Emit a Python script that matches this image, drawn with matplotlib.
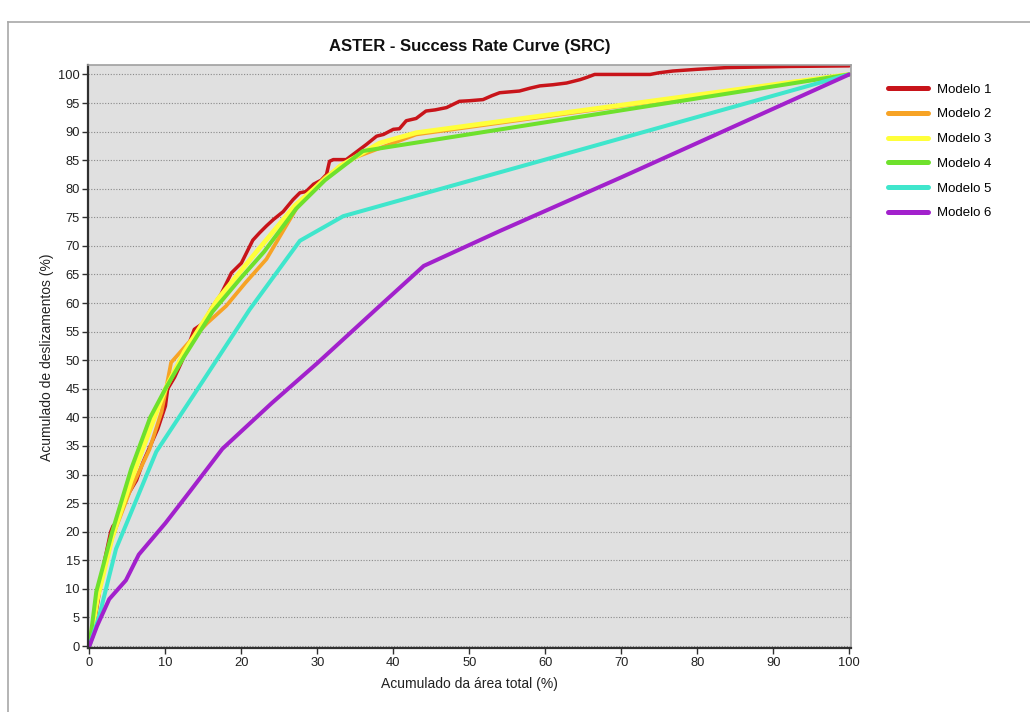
import matplotlib
matplotlib.use("Agg")
import matplotlib.pyplot as plt
from matplotlib.lines import Line2D

plt.rcParams['font.family'] = ['Liberation Sans', 'DejaVu Sans']

title = "ASTER - Success Rate Curve (SRC)"
xlabel = "Acumulado da área total (%)"
ylabel = "Acumulado de deslizamentos (%)"
model_names = ["Modelo 1", "Modelo 2", "Modelo 3", "Modelo 4", "Modelo 5", "Modelo 6"]
colors = ["#c8141a", "#f7a325", "#ffff3a", "#6ee12c", "#3fe6cc", "#a221cc"]

m1_x = [0, 0.5, 1.1, 1.6, 2.0, 2.4, 2.8, 3.1, 3.5, 4.2, 5.3, 6.2, 7, 8, 9, 10, 10.3, 11.2,
        12.1, 13, 13.8, 15, 16, 17.3, 18.7, 20, 20.9, 21.5, 22.4, 23.3, 24.2, 25.5, 26.8,
        27.7, 28.5, 29.5, 30.5, 31.2, 31.6, 32.1, 33.8, 34.7, 35.6, 36.5, 37.8, 38.7, 40,
        40.8, 41.7, 43, 44.3, 45.5, 47, 48.7, 50, 51.8, 53, 54, 56.6, 58, 59.3, 61, 62.8,
        64.6, 65.5, 66.5, 73.8, 75, 76.8, 80, 83.9, 88, 92.2, 100]
m1_y = [0, 3, 7.7, 12, 15, 17.5, 20, 21, 21.5, 24, 27, 29, 32, 35, 38, 42, 45, 47,
        49.6, 52.5, 55.4, 56.5, 59, 61.5, 65.3, 67, 69.4, 71, 72.3, 73.5, 74.6, 76, 78.1,
        79.3, 79.5, 80.8, 81.5, 82.5, 84.8, 85.1, 85.1, 86, 86.9, 87.8, 89.2, 89.5, 90.4,
        90.5, 91.9, 92.3, 93.6, 93.8, 94.2, 95.3, 95.4, 95.6, 96.3, 96.8, 97.1, 97.6, 98,
        98.2, 98.5, 99.1, 99.5, 100, 100, 100.3, 100.6, 100.9, 101.2, 101.3, 101.4, 101.5]

m2_x = [0, 0.5, 1.3, 3, 5.3, 7.9, 9.5, 10.75, 13, 15.5, 18, 20.5, 23.3, 27.7, 31, 35, 43, 100]
m2_y = [0, 4, 10, 19, 27, 34.4, 41, 49.6, 53, 56.5, 59.5, 63.5, 67.7, 77.6, 82, 85.5, 89.5, 100]

m3_x = [0, 0.4, 1, 3, 5.5, 8, 10, 12.5, 16.9, 22, 27, 33, 38.2, 43, 100]
m3_y = [0, 3, 8, 19, 29, 38, 45, 51.5, 60.7, 69, 77, 84, 88, 89.8, 100]

m4_x = [0, 0.9, 3, 5.5, 8, 10, 12.5, 16.2, 20, 23, 27.2, 31, 36, 100]
m4_y = [0, 9.5, 20, 31, 40, 45, 50.7, 58.5, 64.5, 69, 76.5, 81.5, 86.6, 100]

m5_x = [0, 1.3, 3.5, 6.4, 8.8, 15, 21.1, 27.7, 33.4, 100]
m5_y = [0, 5.3, 17, 26.3, 34, 46.5, 58.9, 70.9, 75.2, 100]

m6_x = [0, 1, 2.6, 4.8, 6.5, 10, 13.2, 17.5, 24, 30, 37.8, 44, 54, 70, 100]
m6_y = [0, 3.5, 8.2, 11.5, 16, 21.5, 27, 34.5, 42.5, 49.5, 59, 66.5, 72.6, 82, 100]

series = [(m1_x, m1_y), (m2_x, m2_y), (m3_x, m3_y), (m4_x, m4_y), (m5_x, m5_y), (m6_x, m6_y)]
widths = [2.5, 2.7, 3.4, 2.9, 2.9, 2.9]

fig = plt.figure(figsize=(10.3, 7.12), dpi=100)
fig.patch.set_facecolor("white")

# outer frame lines (top and left)
fig.add_artist(Line2D([8 / 1030, 1.0], [1 - 22 / 712, 1 - 22 / 712], color="#a8a8a8", lw=1.2))
fig.add_artist(Line2D([8 / 1030, 8 / 1030], [0, 1 - 22 / 712], color="#a8a8a8", lw=1.2))

ax = fig.add_axes([88.3 / 1030, 1 - 648.3 / 712, (850.7 - 88.3) / 1030, (648.3 - 65.3) / 712])
ax.set_facecolor("#e0e0e0")

for (xs, ys), c, w, name in zip(series, colors, widths, model_names):
    ax.plot(xs, ys, color=c, lw=w, label=name, solid_joinstyle="round", solid_capstyle="round")

ax.set_xlim(-0.15, 100.2)
ax.set_ylim(-0.4, 101.6)
ax.set_xticks(range(0, 101, 10))
ax.set_yticks(range(0, 101, 5))
ax.yaxis.grid(True, linestyle=(0, (1, 1.5)), color="#8a8a8a", lw=0.8)
ax.set_axisbelow(True)

for s in ("left", "bottom"):
    ax.spines[s].set_color("#303030")
    ax.spines[s].set_linewidth(1.6)
for s in ("top", "right"):
    ax.spines[s].set_color("#a0a0a0")
    ax.spines[s].set_linewidth(1.2)

ax.tick_params(axis="both", direction="out", length=4, width=1, color="#303030",
               labelsize=9.3, labelcolor="#222222", pad=2)

ax.set_title(title, fontsize=12, fontweight="bold", pad=10, color="#111111")
ax.set_xlabel(xlabel, fontsize=10, color="#222222", labelpad=6)
ax.set_ylabel(ylabel, fontsize=10, color="#222222", labelpad=3)

leg = ax.legend(loc="upper left", bbox_to_anchor=(1.042, 0.978), frameon=False,
                fontsize=9.5, handlelength=3.0, handletextpad=0.7, labelspacing=0.95,
                borderaxespad=0)
for h in leg.get_lines():
    h.set_linewidth(3.6)
    h.set_solid_capstyle("round")

fig.savefig("out.png", dpi=100)
